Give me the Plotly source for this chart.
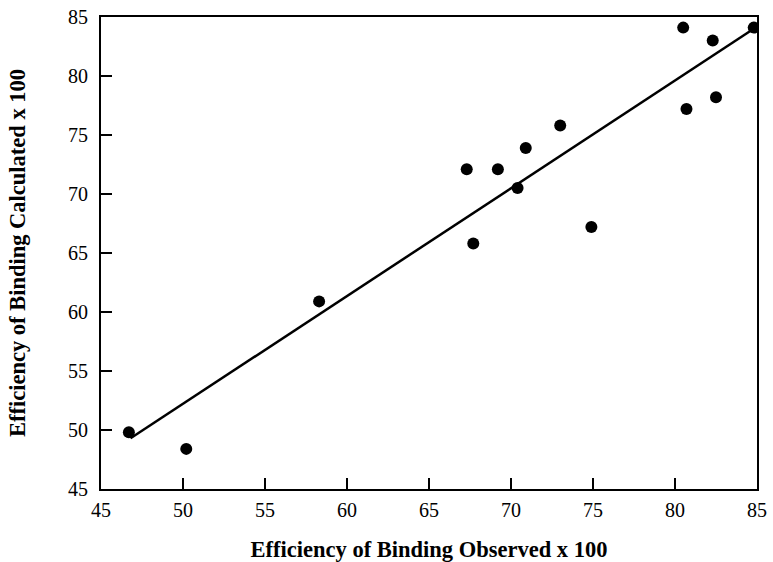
import plotly.graph_objects as go

observed = [46.7, 50.2, 58.3, 67.3, 67.7, 69.2, 70.4, 70.9, 73.0, 74.9, 80.5, 80.7, 82.3, 82.5, 84.8]
calculated = [49.8, 48.4, 60.9, 72.1, 65.8, 72.1, 70.5, 73.9, 75.8, 67.2, 84.1, 77.2, 83.0, 78.2, 84.1]

fit_x = [46.8, 84.8]
fit_y = [49.3, 84.0]

x_ticks = [45, 50, 55, 60, 65, 70, 75, 80, 85]
y_ticks = [45, 50, 55, 60, 65, 70, 75, 80, 85]

fig = go.Figure()
fig.add_trace(go.Scatter(x=fit_x, y=fit_y, mode="lines",
                         line=dict(color="black", width=2.5), showlegend=False))
fig.add_trace(go.Scatter(x=observed, y=calculated, mode="markers",
                         marker=dict(color="black", size=12), showlegend=False))

axis_common = dict(
    showgrid=False, zeroline=False, showline=True, linecolor="black", linewidth=2,
    mirror=True, ticks="inside", ticklen=11, tickwidth=2, tickcolor="black",
    tickfont=dict(family="Liberation Serif", size=20, color="black"),
    ticklabeloverflow="allow",
    automargin=False,
)

fig.update_layout(
    width=773, height=562,
    margin=dict(l=101, r=16, t=17, b=73),
    paper_bgcolor="white", plot_bgcolor="white",
    xaxis=dict(range=[45, 85], tickvals=x_ticks, ticktext=[str(v) for v in x_ticks],
               ticklabelstandoff=2,
               title=dict(text="<b>Efficiency of Binding Observed x 100</b>",
                          font=dict(family="Liberation Serif", size=22.5, color="black"),
                          standoff=27),
               **axis_common),
    yaxis=dict(range=[45, 85], tickvals=y_ticks, ticktext=[str(v) for v in y_ticks],
               ticklabelstandoff=7,
               title=dict(text="<b>Efficiency of Binding Calculated x 100</b>",
                          font=dict(family="Liberation Serif", size=22.5, color="black"),
                          standoff=36),
               **axis_common),
)

fig.write_html(
    "out.html",
    config={"displayModeBar": False},
    post_script="document.body.style.margin='0';document.body.style.overflow='hidden';",
)
